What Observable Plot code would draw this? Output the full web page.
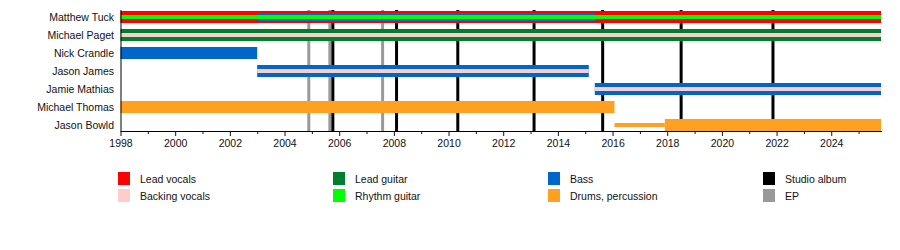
<!DOCTYPE html>
<html><head><meta charset="utf-8">
<script src="https://cdn.jsdelivr.net/npm/d3@7"></script>
<script src="https://cdn.jsdelivr.net/npm/@observablehq/plot@0.6"></script>
<style>
body{margin:0;background:#fff;font-family:"Liberation Sans",Arial,sans-serif;}
#wrap{position:relative;width:900px;height:250px;overflow:hidden;}
#wrap svg{display:block;}
.lg{position:absolute;display:flex;align-items:center;font-size:10.5px;color:#111;white-space:nowrap;}
.sw{width:12px;height:13px;margin-right:10px;flex:none;}
</style></head><body><div id="wrap"></div>
<script>
// ---- data ----
const members = ["Matthew Tuck","Michael Paget","Nick Crandle","Jason James","Jamie Mathias","Michael Thomas","Jason Bowld"];
const timelineEnd = 2025.82;
const barMember = ["Matthew Tuck","Matthew Tuck","Matthew Tuck","Michael Paget","Michael Paget","Nick Crandle","Jason James","Jason James","Jamie Mathias","Jamie Mathias","Michael Thomas","Jason Bowld","Jason Bowld"];
const barRole   = ["Lead vocals","Bass","Rhythm guitar","Lead guitar","Backing vocals","Bass","Bass","Backing vocals","Bass","Backing vocals","Drums, percussion","Drums, percussion","Drums, percussion"];
const barStart  = [1998,2003.0,1998,1998,1998,1998,2003.0,2003.0,2015.35,2015.35,1998,2016.07,2017.91];
const barEnd    = [timelineEnd,2015.37,timelineEnd,timelineEnd,timelineEnd,2003.0,2015.13,2015.13,timelineEnd,timelineEnd,2016.07,2017.91,timelineEnd];
const barRank   = [1,2,3,1,3,1,1,3,1,3,1,3,1]; // 1 = main role, 2 = secondary, 3 = tertiary / touring
const roleNames  = ["Lead vocals","Backing vocals","Lead guitar","Rhythm guitar","Bass","Drums, percussion","Studio album","EP"];
const roleColors = ["#ff0000","#ffcccc","#00802f","#00ff00","#0066cc","#ffa020","#000000","#999999"];
const releaseDate = [2004.87,2005.64,2005.75,2007.57,2008.08,2010.32,2013.11,2015.62,2018.49,2021.85];
const releaseType = ["EP","EP","Studio album","EP","Studio album","Studio album","Studio album","Studio album","Studio album","Studio album"];
const majorYears = [1998,2000,2002,2004,2006,2008,2010,2012,2014,2016,2018,2020,2022,2024];
const minorYears = [1999,2001,2003,2005,2007,2009,2011,2013,2015,2017,2019,2021,2023,2025];

// ---- tables ----
const bars = barMember.map((m, i) => ({member: m, role: barRole[i], start: barStart[i], end: barEnd[i], rank: barRank[i]}));
const releases = releaseDate.map((d, i) => ({date: d, type: releaseType[i]}));

const rankInset = {1: 3, 2: 5, 3: 7};
const barMark = (k) => Plot.barX(bars.filter(d => d.rank === k), {
  x1: "start", x2: "end", y: "member", fill: "role",
  insetTop: rankInset[k], insetBottom: rankInset[k]
});

const chart = Plot.plot({
  width: 900, height: 160,
  marginTop: 10, marginBottom: 29, marginLeft: 120.5, marginRight: 19,
  style: {fontFamily: "'Liberation Sans', Arial, sans-serif", fontSize: "10.5px", background: "white", color: "#111"},
  x: {domain: [1998, timelineEnd]},
  y: {type: "band", domain: members, range: [8, 134], padding: 0},
  color: {domain: roleNames, range: roleColors},
  marks: [
    Plot.ruleX(releases, {x: "date", stroke: "type", strokeWidth: 3}),
    barMark(1), barMark(2), barMark(3),
    Plot.ruleX([1998], {stroke: "black", strokeWidth: 1}),
    Plot.frame({anchor: "bottom", stroke: "black"}),
    Plot.axisY({tickSize: 0, tickPadding: 7, label: null, fontSize: 10.5}),
    Plot.axisX({ticks: majorYears, tickSize: 5, tickPadding: 3, tickFormat: d => String(d), label: null, fontSize: 10.5}),
    Plot.axisX({ticks: minorYears, tickSize: 3, tickFormat: () => "", label: null})
  ]
});

const wrap = document.getElementById("wrap");
wrap.appendChild(chart);

// ---- legend (HTML, from the chart's color scale) ----
const cs = chart.scale("color");
cs.domain.forEach((name, i) => {
  const col = Math.floor(i / 2), row = i % 2;
  const div = document.createElement("div");
  div.className = "lg";
  div.style.left = (118 + col * 215) + "px";
  div.style.top = (172 + row * 17) + "px";
  const sw = document.createElement("span");
  sw.className = "sw";
  sw.style.background = cs.range[i];
  const tx = document.createElement("span");
  tx.textContent = name;
  div.appendChild(sw); div.appendChild(tx);
  wrap.appendChild(div);
});
</script>
</body></html>
